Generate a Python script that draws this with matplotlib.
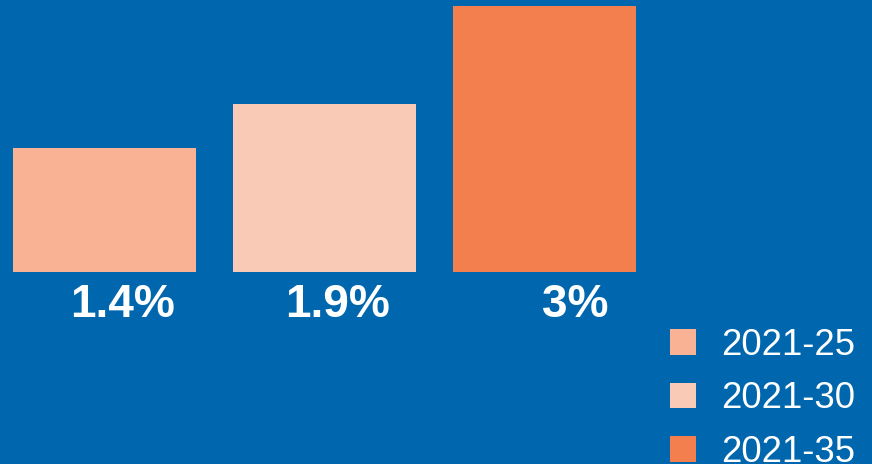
import matplotlib
matplotlib.use("Agg")
import matplotlib.pyplot as plt

plt.rcParams['font.family'] = ['Liberation Sans', 'DejaVu Sans']

periods = ['2021-25', '2021-30', '2021-35']
growth = [1.4, 1.9, 3.0]
labels = ['1.4%', '1.9%', '3%']
colors = ['#F9B294', '#F9CBB6', '#F47F4E']
bg = '#0066AD'

# at 72 dpi one point is one pixel
fig = plt.figure(figsize=(872 / 72, 464 / 72), dpi=72, facecolor=bg)
ax = fig.add_axes([13 / 872, 192 / 464, 623 / 872, 266 / 464])
ax.set_facecolor(bg)

x = range(len(growth))
bars = ax.bar(x, growth, width=0.832, color=colors, label=periods)
ax.set_xlim(-0.416, 2.416)
ax.set_ylim(0, 3)
ax.axis('off')

# value labels under each bar, nudged right
shifts = [18, 13, 31]
for b, txt, dx in zip(bars, labels, shifts):
    ax.annotate(txt, (b.get_x() + b.get_width() / 2, 0), xytext=(dx, -33),
                textcoords='offset points', ha='center', va='center',
                fontsize=46, fontweight='bold', color='white', annotation_clip=False)

leg = fig.legend(bars, periods, loc='upper left', bbox_to_anchor=(670 / 872, 1 - 328 / 464),
                 frameon=False, fontsize=36.5, handlelength=0.71, handleheight=0.71,
                 handletextpad=0.68, labelspacing=0.5, borderpad=0, borderaxespad=0)
for t in leg.get_texts():
    t.set_color('white')

fig.savefig('out.png', dpi=72, facecolor=bg)
